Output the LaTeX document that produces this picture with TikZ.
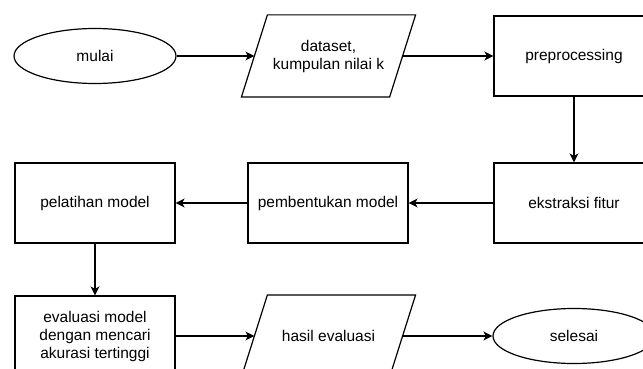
\documentclass[tikz,border=0pt]{standalone}
\usepackage{fontspec}
\setmainfont{Liberation Sans}
\usetikzlibrary{positioning,arrows.meta,shapes.geometric}

\begin{document}
\begin{tikzpicture}[
  x=1pt, y=1pt, on grid,
  txt/.style={font=\fontsize{15.5}{18}\selectfont, align=center, line width=1.2pt},
  proc/.style={txt, draw, minimum width=160pt, minimum height=80pt, inner sep=2pt},
  io/.style={txt, minimum width=147pt, minimum height=81pt, inner sep=2pt},
  term/.style={txt, draw, ellipse, minimum width=162pt, minimum height=55pt, inner sep=0pt},
  arr/.style={-{Stealth[length=9pt,width=9pt,inset=2.5pt]}, line width=1.2pt}
]
  \useasboundingbox (0,0) rectangle (643,-369);
  \clip (0,0) rectangle (643,-369);
  \node[term] (mulai) at (95,-56) {mulai};
  \node[io, right=233.5pt of mulai] (data) {dataset,\\kumpulan nilai k};
  \node[proc, right=245.5pt of data] (prep) {preprocessing};
  \node[proc, below=147pt of prep] (fitur) {ekstraksi fitur};
  \node[proc, left=246pt of fitur] (bentuk) {pembentukan model};
  \node[proc, left=233pt of bentuk] (latih) {pelatihan model};
  \node[proc, below=133pt of latih] (eval) {evaluasi model\\dengan mencari\\akurasi tertinggi};
  \node[io, right=233.5pt of eval] (hasil) {hasil evaluasi};
  \node[term, right=245.5pt of hasil] (selesai) {selesai};
  % slanted input/output boxes
  \foreach \n in {data,hasil}
    \draw[line width=1.2pt] ([xshift=-13pt]\n.south west) -- ([xshift=-13pt]\n.south east)
      -- ([xshift=13pt]\n.north east) -- ([xshift=13pt]\n.north west) -- cycle;
  \draw[arr] (mulai) -- (data);
  \draw[arr] (data) -- (prep);
  \draw[arr] (prep) -- (fitur);
  \draw[arr] (fitur) -- (bentuk);
  \draw[arr] (bentuk) -- (latih);
  \draw[arr] (latih) -- (eval);
  \draw[arr] (eval) -- (hasil);
  \draw[arr] (hasil) -- (selesai);
\end{tikzpicture}
\end{document}
